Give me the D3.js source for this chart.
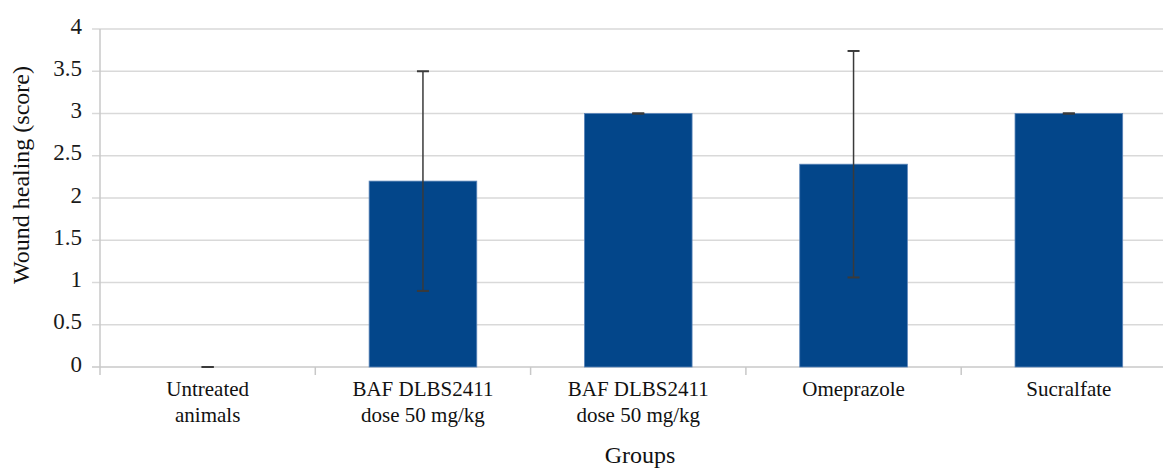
<!DOCTYPE html>
<html>
<head>
<meta charset="utf-8">
<script src="https://cdn.jsdelivr.net/npm/d3@7"></script>
<style>html,body{margin:0}</style>
</head>
<body>
<svg id="chart" width="1163" height="468"></svg>
<script>
// Chart data
const groups = [
    ['Untreated', 'animals'],
    ['BAF DLBS2411', 'dose 50 mg/kg'],
    ['BAF DLBS2411', 'dose 50 mg/kg'],
    ['Omeprazole'],
    ['Sucralfate']
];
const means = [0, 2.2, 3.0, 2.4, 3.0];
const errors = [0, 1.3, 0, 1.34, 0];
const yTicks = [0, 0.5, 1, 1.5, 2, 2.5, 3, 3.5, 4];

const width = 1163, height = 468;
const barColor = '#03468a';
const serif = '"Liberation Serif", "Times New Roman", Times, serif';

const svg = d3.select('#chart');

const x = d3.scaleBand()
    .domain(d3.range(groups.length))
    .range([100, 1176.5])
    .paddingInner(0.5)
    .paddingOuter(0.25);

const y = d3.scaleLinear().domain([0, 4]).range([367, 29]);

// Gridlines
svg.append('g').selectAll('line')
    .data(yTicks).enter().append('line')
    .attr('x1', 92).attr('x2', width)
    .attr('y1', d => y(d)).attr('y2', d => y(d))
    .attr('stroke', d => d === 0 ? '#c8c8c8' : '#d9d9d9')
    .attr('stroke-width', 1.5);

// Y axis line
svg.append('line')
    .attr('x1', 100).attr('x2', 100)
    .attr('y1', y(4)).attr('y2', 375)
    .attr('stroke', '#c8c8c8').attr('stroke-width', 1.5);

// Category tick marks
const bounds = d3.range(1, groups.length).map(i => x(i) - x.step() * x.paddingInner() / 2);
svg.append('g').selectAll('line')
    .data(bounds).enter().append('line')
    .attr('x1', d => d).attr('x2', d => d)
    .attr('y1', y(0)).attr('y2', 375)
    .attr('stroke', '#c8c8c8').attr('stroke-width', 1.5);

// Y tick labels
svg.append('g').selectAll('text')
    .data(yTicks).enter().append('text')
    .attr('x', 82)
    .attr('y', d => y(d))
    .attr('dy', '0.2em')
    .attr('text-anchor', 'end')
    .style('font-family', serif)
    .style('font-size', '23px')
    .attr('fill', '#1a1a1a')
    .text(d => d);

// Bars
svg.append('g').selectAll('rect')
    .data(means).enter().append('rect')
    .attr('x', (d, i) => x(i))
    .attr('y', d => y(d))
    .attr('width', x.bandwidth())
    .attr('height', d => y(0) - y(d))
    .attr('fill', barColor)
    .attr('stroke', '#5b84b8')
    .attr('stroke-width', 0.8);

// Error bars
const err = svg.append('g').attr('stroke', '#3a3a3a');
means.forEach((m, i) => {
    const cx = x(i) + x.bandwidth() / 2;
    const lo = m - errors[i], hi = m + errors[i];
    if (errors[i] > 0) {
        err.append('line')
            .attr('x1', cx).attr('x2', cx)
            .attr('y1', y(lo)).attr('y2', y(hi))
            .attr('stroke-width', 1.5);
    }
    [lo, hi].forEach(v => {
        err.append('line')
            .attr('x1', cx - 6).attr('x2', cx + 6)
            .attr('y1', y(v)).attr('y2', y(v))
            .attr('stroke-width', 2);
    });
});

// Category labels
const cat = svg.append('g').selectAll('text')
    .data(groups).enter().append('text')
    .attr('x', (d, i) => x(i) + x.bandwidth() / 2)
    .attr('y', 396)
    .attr('text-anchor', 'middle')
    .style('font-family', serif)
    .style('font-size', '21px')
    .attr('fill', '#111');
cat.each(function(lines) {
    const t = d3.select(this);
    lines.forEach((l, j) => {
        t.append('tspan')
            .attr('x', t.attr('x'))
            .attr('dy', j === 0 ? 0 : 26)
            .text(l);
    });
});

// Axis titles
svg.append('text')
    .attr('x', 640).attr('y', 463)
    .attr('text-anchor', 'middle')
    .style('font-family', serif)
    .style('font-size', '24px')
    .attr('fill', '#111')
    .text('Groups');

svg.append('text')
    .attr('transform', 'translate(29,175) rotate(-90)')
    .attr('text-anchor', 'middle')
    .style('font-family', serif)
    .style('font-size', '24px')
    .attr('fill', '#111')
    .text('Wound healing (score)');
</script>
</body>
</html>
